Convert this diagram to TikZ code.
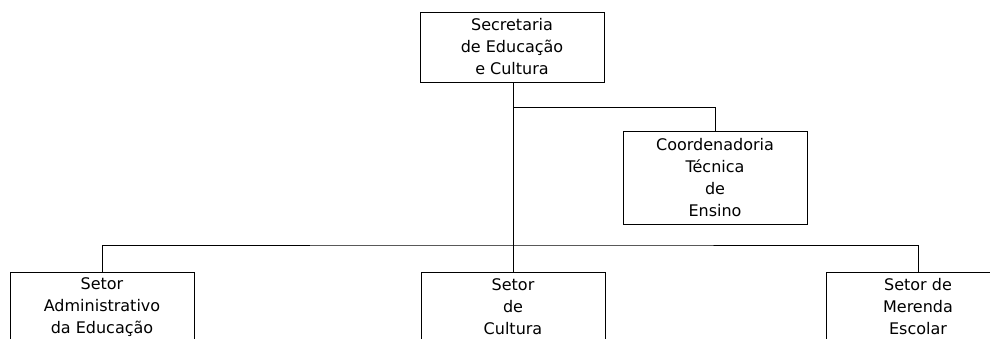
\documentclass[tikz,border=0pt]{standalone}
\usepackage{fontspec}
\setmainfont{DejaVu Sans}
\usepackage{tikz}
\usetikzlibrary{positioning}

\begin{document}
\begin{tikzpicture}[x=1pt,y=-1pt,
  caixa/.style={draw,line width=0.8pt,align=center,minimum width=184pt,
    minimum height=70pt,inner ysep=5pt,font=\fontsize{16}{22}\selectfont},
  liga/.style={line width=0.8pt}]
\useasboundingbox (0,0) rectangle (990,339);
\clip (0,0) rectangle (990,339);
% topo
\node[caixa] (sec) at (512,47) {Secretaria\\de Educação\\e Cultura};
\node[caixa,minimum height=93pt] (coord) at (715,177.5) {Coordenadoria\\Técnica\\de\\Ensino};
% setores
\node[caixa] (adm) at (102,307) {Setor\\Administrativo\\da Educação};
\node[caixa] (cul) at (513,307) {Setor\\de\\Cultura};
\node[caixa] (mer) at (918,307) {Setor de\\Merenda\\Escolar};
\coordinate (ramo) at (513,107);
\coordinate (barra) at (513,245);
\draw[liga] (sec.south -| cul.north) -- (cul.north);
\draw[liga] (ramo) -| (coord.north);
\draw[liga] (adm.north) |- (barra) -| (mer.north);
\end{tikzpicture}
\end{document}
